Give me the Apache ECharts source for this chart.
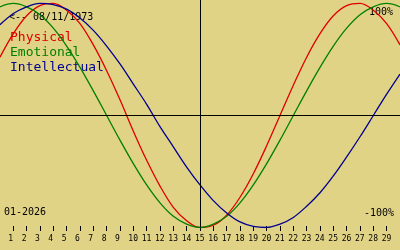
<!DOCTYPE html>
<html>
<head>
<meta charset="utf-8">
<script src="https://cdn.jsdelivr.net/npm/echarts@6/dist/echarts.min.js"></script>
<style>
html,body{margin:0;padding:0;background:#E1D386;}
#chart{width:400px;height:250px;}
</style>
</head>
<body>
<div id="chart"></div>
<script>
// Days of the month (x positions, 0..30)
var days = [0,1,2,3,4,5,6,7,8,9,10,11,12,13,14,15,16,17,18,19,20,21,22,23,24,25,26,27,28,29,30];
// Biorhythm values (-1 .. 1)
var physical = [0.52,0.73,0.89,0.98,1.00,0.94,0.82,0.63,0.40,0.14,-0.14,-0.40,-0.63,-0.82,-0.94,-1.00,-0.98,-0.89,-0.73,-0.52,-0.27,0.00,0.27,0.52,0.73,0.89,0.98,1.00,0.94,0.82,0.63];
var emotional = [0.97,1.00,0.97,0.90,0.78,0.62,0.43,0.22,0.00,-0.22,-0.43,-0.62,-0.78,-0.90,-0.97,-1.00,-0.97,-0.90,-0.78,-0.62,-0.43,-0.22,0.00,0.22,0.43,0.62,0.78,0.90,0.97,1.00,0.97];
var intellectual = [0.81,0.91,0.97,1.00,0.99,0.95,0.87,0.76,0.62,0.46,0.28,0.10,-0.10,-0.28,-0.46,-0.62,-0.76,-0.87,-0.95,-0.99,-1.00,-0.97,-0.91,-0.81,-0.69,-0.54,-0.37,-0.19,0.00,0.19,0.37];
// Tick labels (days shown on the axis)
var tickDays = [1,2,3,4,5,6,7,8,9,10,11,12,13,14,15,16,17,18,19,20,21,22,23,24,25,26,27,28,29];
var seriesNames = ['Physical','Emotional','Intellectual'];
var seriesColors = ['#E00000','#008000','#000090'];
var todayDay = 15;
var birthText = '<-- 08/11/1973';
var monthText = '01-2026';
var topText = '100%';
var bottomText = '-100%';

var FONT = 'DejaVu Sans Mono';
var chart = echarts.init(document.getElementById('chart'), null, {renderer:'canvas'});

function pairs(vals){ return days.map(function(d,i){ return [d, vals[i]]; }); }

var valueSets = [physical, emotional, intellectual];
var series = valueSets.map(function(vals, i){
  return {
    name: seriesNames[i], type:'line', xAxisIndex:0, yAxisIndex:0,
    data: pairs(vals), smooth: 0.35, symbol:'none', silent:true,
    lineStyle:{color:seriesColors[i], width:1.3},
    z: 3
  };
});
series.push({
  type:'line', xAxisIndex:0, yAxisIndex:0, data:[], silent:true,
  markLine:{
    silent:true, symbol:'none', animation:false,
    label:{show:false},
    lineStyle:{color:'#000', width:1, type:'solid'},
    data:[{xAxis: todayDay},{yAxis: 0}]
  },
  z: 2
});

var option = {
  backgroundColor:'#E1D386',
  animation:false,
  grid:[
    {left:0, right:0, top:0, bottom:22.5},
    {left:0, right:0, top:0, bottom:24},
    {left:0, right:0, top:0, bottom:24}
  ],
  xAxis:[
    {type:'value', gridIndex:0, min:0, max:30, show:false},
    {type:'value', gridIndex:1, min:0, max:30, position:'bottom',
      axisLine:{show:false, onZero:false}, splitLine:{show:false},
      axisTick:{show:true, inside:false, length:5, customValues:tickDays, lineStyle:{color:'#000', width:1}},
      axisLabel:{show:false}
    },
    {type:'value', gridIndex:2, min:0.375, max:30.375, position:'bottom',
      axisLine:{show:false, onZero:false}, splitLine:{show:false}, axisTick:{show:false},
      axisLabel:{show:true, customValues:tickDays, align:'left', margin:9,
        color:'#000', fontFamily:FONT, fontSize:8}
    }
  ],
  yAxis:[
    {type:'value', gridIndex:0, min:-1, max:1.031, show:false},
    {type:'value', gridIndex:1, min:-1, max:1, show:false},
    {type:'value', gridIndex:2, min:-1, max:1, show:false}
  ],
  series: series,
  graphic:[
    {type:'text', left:9, top:12, style:{text:birthText, fill:'#000', font:'10px "'+FONT+'"'}},
    {type:'text', left:10, top:31, style:{text:seriesNames[0], fill:seriesColors[0], font:'13px "'+FONT+'"'}},
    {type:'text', left:10, top:46, style:{text:seriesNames[1], fill:seriesColors[1], font:'13px "'+FONT+'"'}},
    {type:'text', left:10, top:61, style:{text:seriesNames[2], fill:seriesColors[2], font:'13px "'+FONT+'"'}},
    {type:'text', right:7, top:7, style:{text:topText, fill:'#000', font:'10px "'+FONT+'"'}},
    {type:'text', right:6, top:208, style:{text:bottomText, fill:'#000', font:'10px "'+FONT+'"'}},
    {type:'text', left:4, top:207, style:{text:monthText, fill:'#000', font:'10px "'+FONT+'"'}}
  ]
};
chart.setOption(option);
</script>
</body>
</html>
